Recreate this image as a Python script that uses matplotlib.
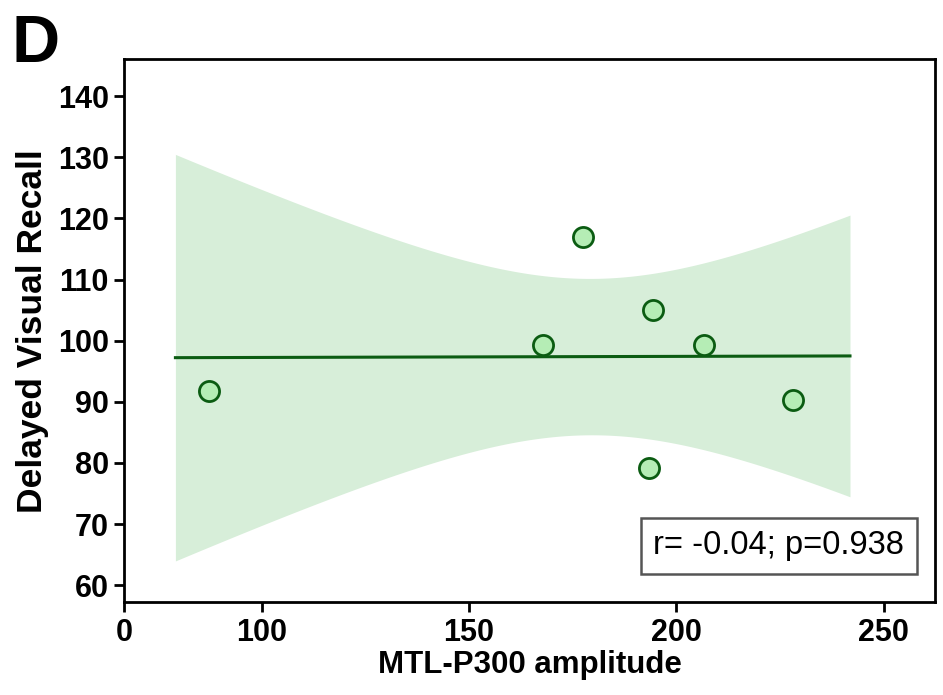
import numpy as np
import matplotlib
matplotlib.use("Agg")
import matplotlib.pyplot as plt

# ---- data ----
amplitude = [87.2, 167.8, 177.6, 194.4, 193.5, 206.8, 228.2]
recall = [91.8, 99.25, 117.0, 105.1, 79.1, 99.25, 90.3]
fit_range = [79.2, 241.9]
x_ticks = [66.8, 100, 150, 200, 250]
x_tick_labels = ["0", "100", "150", "200", "250"]
y_ticks = [60, 70, 80, 90, 100, 110, 120, 130, 140]
annotation = "r= -0.04; p=0.938"
panel_label = "D"
x_label = "MTL-P300 amplitude"
y_label = "Delayed Visual Recall"

plt.rcParams["font.family"] = ["Liberation Sans", "DejaVu Sans"]

fig = plt.figure(figsize=(9.43, 6.95), dpi=100)
ax = fig.add_axes([0.1315, 0.1334, 0.86, 0.7813])

x = np.array(amplitude)
y = np.array(recall)
n = len(x)
slope, intercept = np.polyfit(x, y, 1)
resid = y - (slope * x + intercept)
s = np.sqrt(np.sum(resid**2) / (n - 2))
t = 2.5706  # t(0.975, df=5)
xs = np.linspace(fit_range[0], fit_range[1], 200)
ys = slope * xs + intercept
se = s * np.sqrt(1 / n + (xs - x.mean())**2 / np.sum((x - x.mean())**2))

ax.fill_between(xs, ys - t * se, ys + t * se, color="#d7eed9", lw=0, zorder=1)
ax.plot(xs, ys, color="#0b5c12", lw=2.2, zorder=2)
ax.scatter(x, y, s=210, facecolor="#b5edb5", edgecolor="#0b5c12", linewidths=2.0, zorder=3)

ax.set_xlim(66.8, 262.4)
ax.set_ylim(57.2, 146.05)
ax.set_xticks(x_ticks)
ax.set_xticklabels(x_tick_labels)
ax.set_yticks(y_ticks)

for sp in ax.spines.values():
    sp.set_linewidth(2.0)
ax.tick_params(axis="both", width=2, length=7, labelsize=22, pad=4)
for lab in ax.get_xticklabels() + ax.get_yticklabels():
    lab.set_fontweight("bold")

ax.set_xlabel(x_label, fontsize=22.5, fontweight="bold", labelpad=2)
ax.set_ylabel(y_label, fontsize=25.5, fontweight="bold", labelpad=6)

ax.text(0.962, 0.104, annotation, transform=ax.transAxes, ha="right", va="center",
        fontsize=23.5,
        bbox=dict(boxstyle="square,pad=0.38", facecolor="white", edgecolor="#555555", lw=1.8))

fig.text(0.012, 0.98, panel_label, fontsize=48, fontweight="bold", va="top", ha="left")

fig.savefig("out.png", dpi=100)
